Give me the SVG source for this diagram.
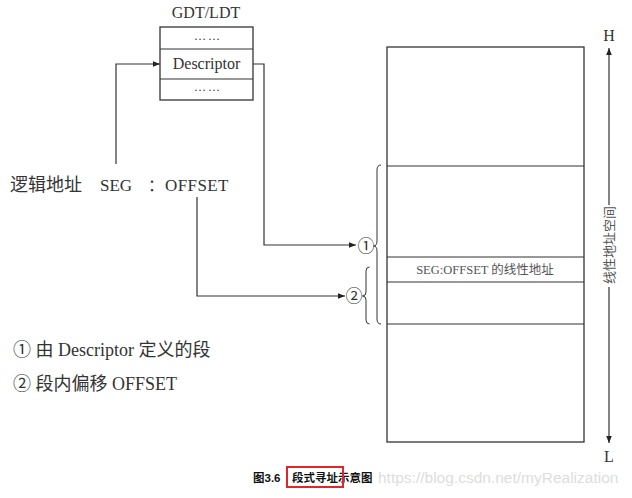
<svg xmlns="http://www.w3.org/2000/svg" width="632" height="498" viewBox="0 0 632 498">
<style>
.ser{font-family:"Liberation Serif","Noto Sans CJK SC",serif;fill:#333}
.box{fill:#fff;stroke:#333;stroke-width:1.3}
.ln{fill:none;stroke:#333;stroke-width:1.2}
.br{fill:none;stroke:#333;stroke-width:1}
</style>
<defs>
<marker id="ah" viewBox="0 0 10 10" refX="10" refY="5" markerWidth="7" markerHeight="7" markerUnits="userSpaceOnUse" orient="auto">
<path d="M0,1 L10,5 L0,9 Z" fill="#222"/>
</marker>
</defs>
<rect width="632" height="498" fill="#fff"/>

<g id="gdt">
<text class="ser" x="206" y="18" font-size="16" text-anchor="middle">GDT/LDT</text>
<rect class="box" x="160" y="27" width="93" height="73"/>
<line class="ln" x1="160" y1="49" x2="253" y2="49"/>
<line class="ln" x1="160" y1="79" x2="253" y2="79"/>
<text class="ser" x="208" y="40" font-size="12" text-anchor="middle" letter-spacing="2">……</text>
<text class="ser" x="206.5" y="69" font-size="16" text-anchor="middle">Descriptor</text>
<text class="ser" x="208" y="91" font-size="12" text-anchor="middle" letter-spacing="2">……</text>
</g>

<g id="logical-address">
<text class="ser" x="10" y="191" font-size="18">逻辑地址</text>
<text class="ser" x="100" y="191" font-size="17">SEG</text>
<text class="ser" x="148" y="191" font-size="16">：</text>
<text class="ser" x="165" y="191" font-size="17" letter-spacing="0.4">OFFSET</text>
</g>

<g id="linear-space">
<rect class="box" x="387" y="47" width="197" height="395"/>
<line class="ln" x1="387" y1="166" x2="584" y2="166"/>
<line class="ln" x1="387" y1="257" x2="584" y2="257"/>
<line class="ln" x1="387" y1="282" x2="584" y2="282"/>
<line class="ln" x1="387" y1="324" x2="584" y2="324"/>
<text class="ser" x="485" y="274" font-size="12.5" text-anchor="middle" style="fill:#555">SEG:OFFSET 的线性地址</text>
</g>

<g id="axis">
<text class="ser" x="609" y="41" font-size="16" text-anchor="middle">H</text>
<text class="ser" x="609" y="462" font-size="16" text-anchor="middle">L</text>
<line class="ln" x1="609" y1="205" x2="609" y2="48" marker-end="url(#ah)"/>
<line class="ln" x1="609" y1="287" x2="609" y2="443" marker-end="url(#ah)"/>
<text class="ser" x="0" y="0" font-size="13" text-anchor="middle" transform="translate(613.5,245) rotate(-90)" style="fill:#555">线性地址空间</text>
</g>

<g id="braces">
<path class="br" d="M381,165 Q377,165 377,170 L377,241 Q377,246 373.5,246 Q377,246 377,251 L377,319 Q377,324 381,324"/>
<path class="br" d="M369.5,267 Q366,267 366,271 L366,292 Q366,296 362.5,296 Q366,296 366,300 L366,320 Q366,324 369.5,324"/>
<text class="ser" x="366" y="251.5" font-size="17" text-anchor="middle">①</text>
<text class="ser" x="354" y="301.5" font-size="17" text-anchor="middle">②</text>
</g>

<g id="connectors">
<polyline class="ln" points="116,164 116,64 160,64" marker-end="url(#ah)"/>
<polyline class="ln" points="253,64 264,64 264,245 356,245" marker-end="url(#ah)"/>
<polyline class="ln" points="197,197 197,296 345,296" marker-end="url(#ah)"/>
</g>

<g id="legend">
<text class="ser" x="13" y="356" font-size="18">① 由 Descriptor 定义的段</text>
<text class="ser" x="13" y="390" font-size="18">② 段内偏移 OFFSET</text>
</g>

<g id="caption">
<text x="253" y="482" font-family="'Liberation Sans','Noto Sans CJK SC',sans-serif" font-size="11.5" font-weight="bold" fill="#111">图3.6</text>
<text x="292" y="482" font-family="'Liberation Sans','Noto Sans CJK SC',sans-serif" font-size="11.5" font-weight="bold" fill="#111">段式寻址示意图</text>
<rect x="287" y="467" width="56" height="20" fill="none" stroke="#e0262b" stroke-width="2"/>
<text x="378" y="483" font-family="'Liberation Sans',sans-serif" font-size="15.5" fill="#ddd">https://blog.csdn.net/myRealization</text>
</g>
</svg>
